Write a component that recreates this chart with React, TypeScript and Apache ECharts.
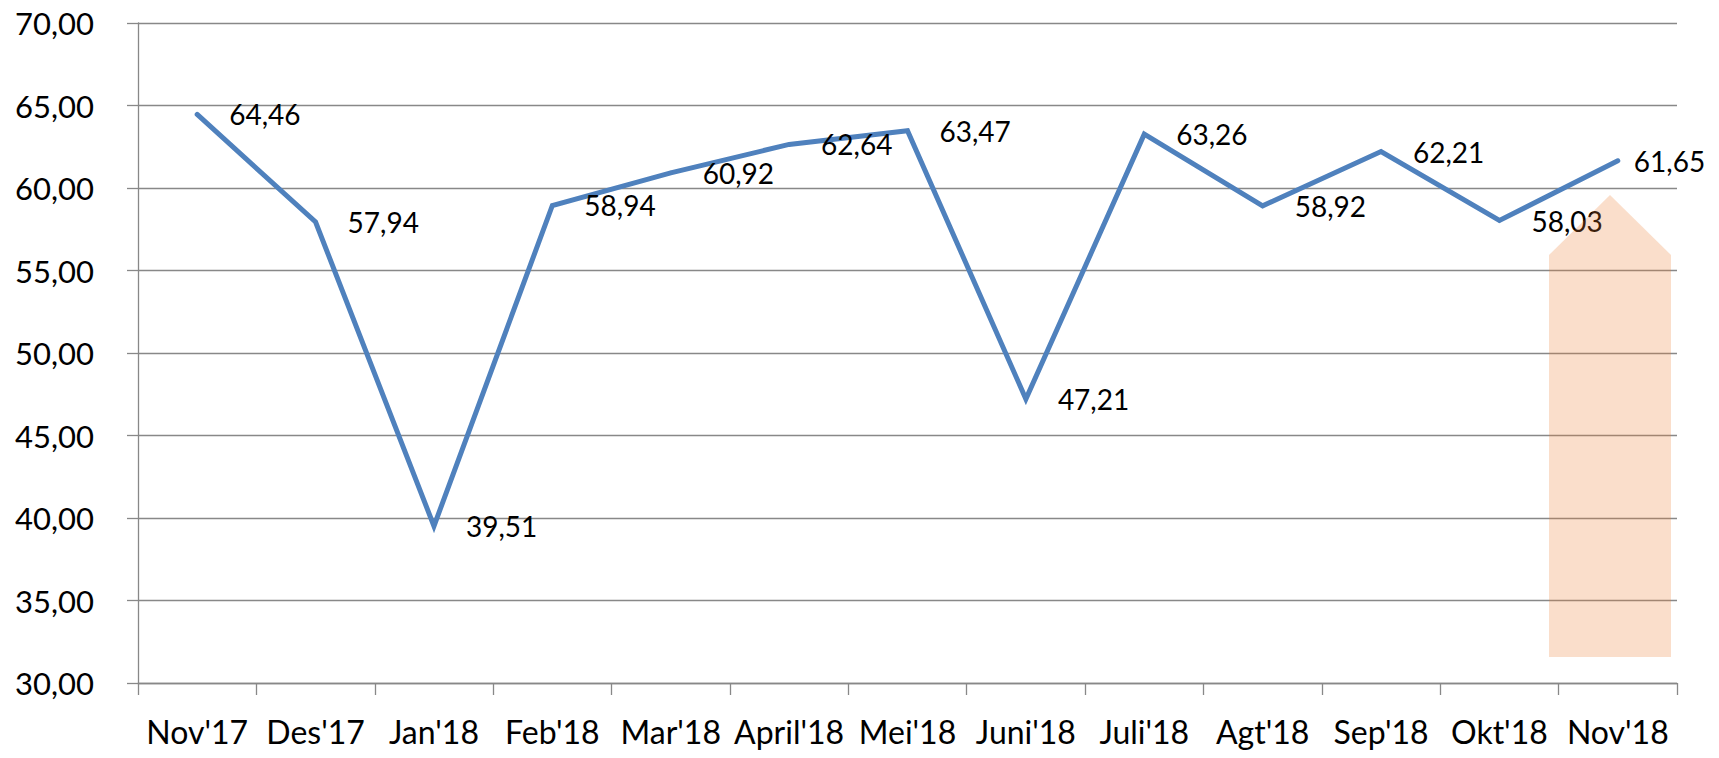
import React, { useEffect, useRef } from "react";
import * as echarts from "echarts";

const categories = [
  "Nov'17", "Des'17", "Jan'18", "Feb'18", "Mar'18", "April'18", "Mei'18",
  "Juni'18", "Juli'18", "Agt'18", "Sep'18", "Okt'18", "Nov'18",
];
const values = [64.46, 57.94, 39.51, 58.94, 60.92, 62.64, 63.47, 47.21, 63.26, 58.92, 62.21, 58.03, 61.65];
const yMin = 30;
const yMax = 70;
const yStep = 5;

const FONT = "Lato";
const fmt = (v: number) => v.toFixed(2).replace(".", ",");

export default function App() {
  const ref = useRef<HTMLDivElement>(null);
  useEffect(() => {
    document.body.style.margin = "0";
    const chart = echarts.init(ref.current!, null, { renderer: "svg" });
    const grid = "#888888";
    const seriesData = values.map((v, i) =>
      i === values.length - 1 ? { value: v, label: { distance: 14 } } : v
    );
    chart.setOption({
      animation: false,
      backgroundColor: "#ffffff",
      grid: { left: 138, right: 42, top: 23, bottom: 75 },
      xAxis: {
        type: "category",
        data: categories,
        boundaryGap: true,
        axisLine: { show: true, lineStyle: { color: grid, width: 1.3 } },
        axisTick: { show: true, length: 12, interval: 0, lineStyle: { color: grid, width: 1.3 } },
        axisLabel: {
          interval: 0,
          color: "#000",
          fontFamily: FONT,
          fontSize: 32,
          lineHeight: 32,
          margin: 32,
        },
        splitLine: { show: false },
      },
      yAxis: {
        type: "value",
        min: yMin,
        max: yMax,
        interval: yStep,
        axisLine: { show: true, lineStyle: { color: grid, width: 1.3 } },
        axisTick: { show: true, length: 11, lineStyle: { color: grid, width: 1.3 } },
        axisLabel: {
          color: "#000",
          fontFamily: FONT,
          fontSize: 31,
          margin: 44,
          formatter: (v: number) => fmt(v),
        },
        splitLine: { show: true, lineStyle: { color: grid, width: 1.3 } },
      },
      series: [
        {
          type: "line",
          data: seriesData,
          symbol: "circle",
          symbolSize: 4,
          showSymbol: true,
          itemStyle: { color: "#4F81BD" },
          lineStyle: { color: "#4F81BD", width: 5, cap: "round", join: "miter" },
          label: {
            show: true,
            position: "right",
            distance: 30,
            color: "#000",
            fontFamily: FONT,
            fontSize: 28,
            formatter: (p: any) => fmt(p.value),
          },
        },
      ],
      graphic: [
        {
          type: "polygon",
          z: 100,
          silent: true,
          shape: {
            points: [
              [1549, 657],
              [1549, 255],
              [1610, 195],
              [1671, 255],
              [1671, 657],
            ],
          },
          style: { fill: "rgba(237,125,49,0.25)" },
        },
      ],
    });
    return () => chart.dispose();
  }, []);
  return <div ref={ref} style={{ width: 1719, height: 758 }} />;
}
